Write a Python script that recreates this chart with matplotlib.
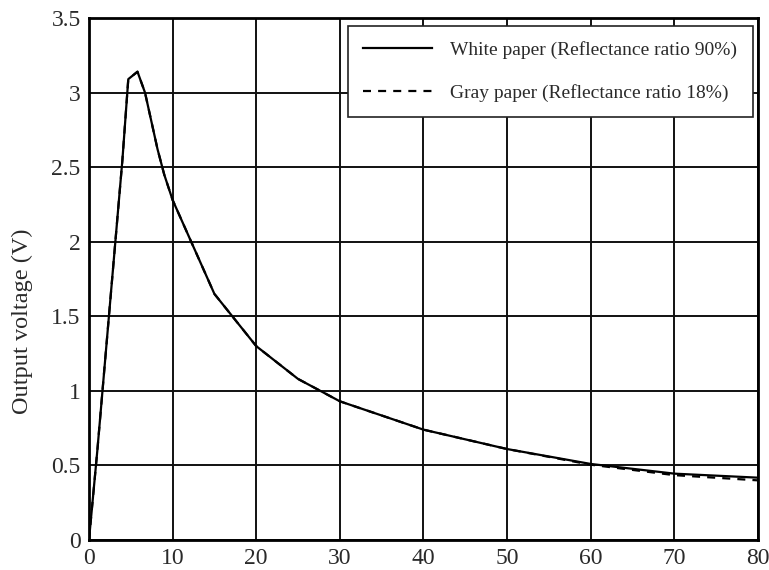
import matplotlib.pyplot as plt

# distance (cm) and output voltage (V)
distance = [0, 1, 2, 3, 4, 4.7, 5.8, 6.7, 8.2, 9.0, 10, 15, 20, 25, 30, 40, 50, 60, 70, 80]
white_v = [0, 0.6, 1.25, 1.9, 2.55, 3.09, 3.14, 3.0, 2.62, 2.45, 2.28, 1.65, 1.3, 1.08, 0.93,
           0.74, 0.61, 0.51, 0.445, 0.418]
gray_v = [0, 0.6, 1.25, 1.9, 2.55, 3.09, 3.14, 3.0, 2.62, 2.45, 2.28, 1.65, 1.3, 1.08, 0.93,
          0.74, 0.61, 0.505, 0.435, 0.40]

x_ticks = [0, 10, 20, 30, 40, 50, 60, 70, 80]
y_ticks = [0, 0.5, 1, 1.5, 2, 2.5, 3, 3.5]
y_tick_labels = ['0', '0.5', '1', '1.5', '2', '2.5', '3', '3.5']

plt.rcParams['font.family'] = ['Liberation Serif', 'DejaVu Serif']

fig = plt.figure(figsize=(7.69, 5.70), dpi=100)
ax = fig.add_axes([0.1157, 0.0526, 0.870, 0.9158])

ax.plot(distance, white_v, color='black', linewidth=1.6, linestyle='-',
        label='White paper (Reflectance ratio 90%)')
ax.plot(distance, gray_v, color='black', linewidth=1.6, linestyle=(0, (3.6, 3.2)),
        label='Gray paper (Reflectance ratio 18%)')

ax.set_xlim(0, 80)
ax.set_ylim(0, 3.5)
ax.set_xticks(x_ticks)
ax.set_yticks(y_ticks)
ax.set_yticklabels(y_tick_labels)
ax.tick_params(axis='both', length=0, labelsize=17, pad=6, colors='#2a2a2a')
ax.grid(True, color='#111111', linewidth=1.4)
ax.set_axisbelow(True)
for s in ax.spines.values():
    s.set_linewidth(2.0)
    s.set_color('black')

ax.set_ylabel('Output voltage (V)', fontsize=17.5, color='#2a2a2a')
ax.yaxis.set_label_coords(-0.084, 0.42)

leg = ax.legend(loc='upper right', bbox_to_anchor=(0.9925, 0.985), fontsize=14,
                fancybox=False, framealpha=1, edgecolor='#222222', handlelength=3.55,
                borderpad=0.8, labelspacing=1.25, handletextpad=0.93, borderaxespad=0)
leg.get_frame().set_linewidth(1.2)
for t in leg.get_texts():
    t.set_color('#2a2a2a')

fig.savefig('out.png', dpi=100)
